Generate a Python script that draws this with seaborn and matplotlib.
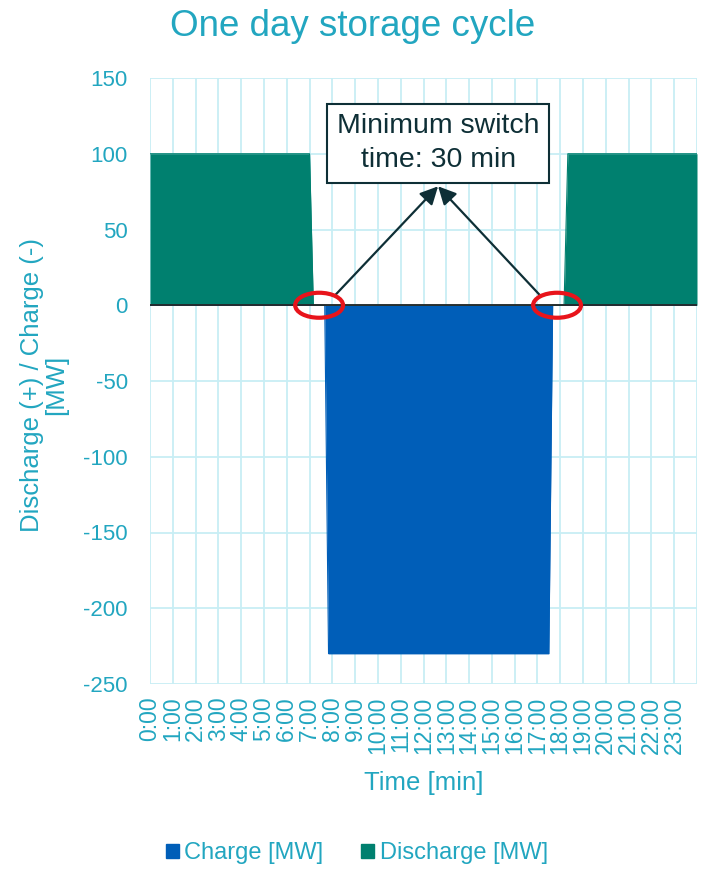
import matplotlib
matplotlib.use("Agg")
import matplotlib.pyplot as plt
from matplotlib.patches import Ellipse, Patch
import numpy as np
import pandas as pd
import seaborn as sns

# Storage schedule, piecewise-linear at 10-minute steps (times in hours)
discharge_time = [0.0, 7.0, 7 + 10/60, 18 + 10/60, 18 + 20/60, 24.0]
discharge_mw = [100, 100, 0, 0, 100, 100]
charge_time = [0.0, 7 + 40/60, 7 + 50/60, 17 + 30/60, 17 + 40/60, 24.0]
charge_mw = [0, 0, -230, -230, 0, 0]

hour_labels = [f"{h}:00" for h in range(24)]
y_ticks = [150, 100, 50, 0, -50, -100, -150, -200, -250]

CYAN_TXT = "#22a6c0"
GRID = "#c8eef5"
GREEN = "#00806f"
BLUE = "#005eb8"
DARK = "#0e2f36"
RED = "#e8141b"

sns.set_theme(style="white")
plt.rcParams["font.family"] = ["Liberation Sans", "DejaVu Sans"]

fig = plt.figure(figsize=(7.06, 8.73), dpi=100)
ax = fig.add_axes([150/706, 1 - 684/873, 547/706, 606/873])

df = pd.concat([
    pd.DataFrame({"time": charge_time, "MW": charge_mw, "series": "Charge [MW]"}),
    pd.DataFrame({"time": discharge_time, "MW": discharge_mw, "series": "Discharge [MW]"}),
])
sns.lineplot(data=df, x="time", y="MW", hue="series", sort=False,
             palette={"Charge [MW]": BLUE, "Discharge [MW]": GREEN},
             linewidth=0.8, legend=False, ax=ax, zorder=3)
ax.fill_between(charge_time, charge_mw, 0, color=BLUE, lw=0, zorder=2)
ax.fill_between(discharge_time, discharge_mw, 0, color=GREEN, lw=0, zorder=2)

ax.set_xlim(0, 24)
ax.set_ylim(-250, 150)
ax.set_xticks(range(24))
ax.set_xticklabels(hour_labels, rotation=90, fontsize=16.5, color=CYAN_TXT)
ax.set_yticks(y_ticks)
ax.set_yticklabels([str(v) for v in y_ticks], fontsize=16, color=CYAN_TXT)
ax.tick_params(axis="x", length=0, pad=9)
ax.tick_params(axis="y", length=0, pad=16)

for h in range(25):
    ax.axvline(h, color=GRID, lw=1.3, zorder=1)
for v in y_ticks:
    ax.axhline(v, color=GRID, lw=1.3, zorder=1)
for s in ax.spines.values():
    s.set_visible(False)
ax.axhline(0, color="#262626", lw=1.3, zorder=4)

ax.set_xlabel("")
ax.set_ylabel("")
fig.text(423.5/706, 1 - 783/873, "Time [min]", ha="center", va="center",
         fontsize=18.5, color=CYAN_TXT)
fig.text(44/706, 1 - 385/873, "Discharge (+) / Charge (-)\n[MW]", ha="center",
         va="center", rotation=90, multialignment="center", fontsize=18.5,
         color=CYAN_TXT, linespacing=1.05)
fig.text(0.5, 1 - 27/873, "One day storage cycle", ha="center", va="center",
         fontsize=26.5, color=CYAN_TXT)

# Switch-time callout
ax.text(12.64, 107, "Minimum switch\ntime: 30 min", ha="center", va="center",
        fontsize=20.5, color=DARK, linespacing=1.4, zorder=6,
        bbox=dict(boxstyle="square,pad=0.33", fc="white", ec=DARK, lw=1.5))
for tail_x in (8.12, 17.11):
    ax.annotate("", xy=(12.64, 78.5), xytext=(tail_x, 6.6),
                arrowprops=dict(arrowstyle="-|>,head_length=0.9,head_width=0.45",
                                color=DARK, lw=1.6, shrinkA=0, shrinkB=0),
                zorder=5)
for cx in (7.42, 17.86):
    ax.add_patch(Ellipse((cx, 0), width=2.1, height=16.5, fill=False,
                         ec=RED, lw=3, zorder=7))

handles = [Patch(color=BLUE, label="Charge [MW]"),
           Patch(color=GREEN, label="Discharge [MW]")]
fig.legend(handles=handles, loc="center", bbox_to_anchor=(357/706, 1 - 853/873),
           ncol=2, frameon=False, fontsize=17, handlelength=0.55,
           handleheight=0.55, handletextpad=0.25, columnspacing=1.6,
           labelcolor=CYAN_TXT)

fig.savefig("out.png", dpi=100)
